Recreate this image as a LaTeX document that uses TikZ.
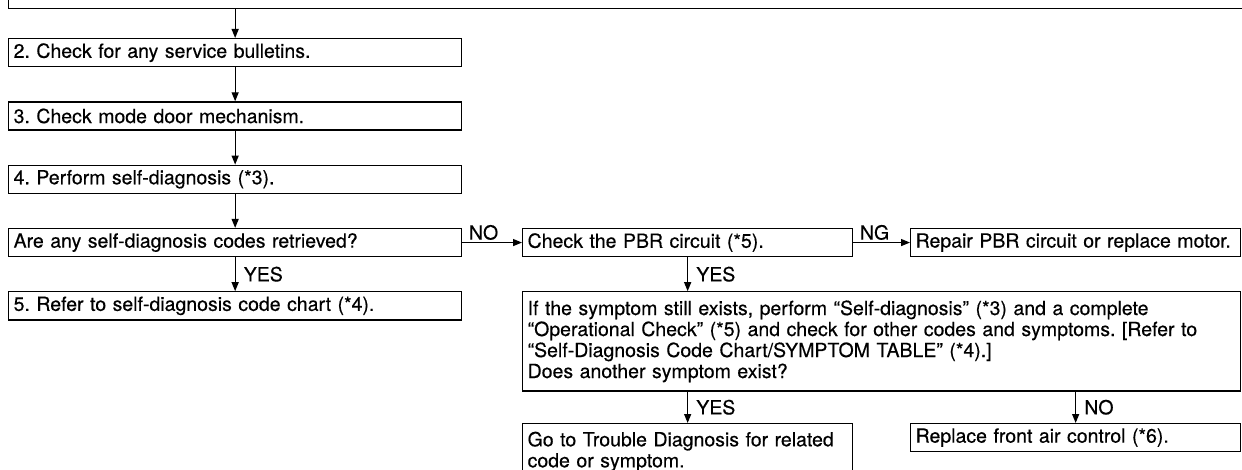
\documentclass[tikz,border=0pt]{standalone}
\usepackage{fontspec}
\setmainfont{TeX Gyre Heros}
\newfontfamily\chartfont{TeX Gyre Heros}[FakeBold=0.4]
\usetikzlibrary{positioning}
\usetikzlibrary{arrows.meta}

\begin{document}
\frenchspacing
\begin{tikzpicture}[
            x=1pt, y=-1pt,
            node distance=34pt,
            box/.style={draw, line width=1.3pt, rectangle, align=left, inner xsep=5pt,
                        minimum height=28pt, font=\chartfont\fontsize{19.5}{21}\selectfont},
            tag/.style={font=\chartfont\fontsize{19.5}{21}\selectfont, inner sep=2pt},
            arrow style/.style={-{Triangle[length=9pt, width=7pt]}, line width=1.3pt}
        ]

        \useasboundingbox (0,0) rectangle (1242,470);
        \clip (0,0) rectangle (1242,470);

        \node[box, minimum width=1260pt, minimum height=60pt, anchor=south west] (confirm) at (8,9) {};

        \node[box, text width=443pt, anchor=north west] (b2) at (8,38) {2. Check for any service bulletins.};
        \node[box, text width=443pt] (b3) [below=of b2] {3. Check mode door mechanism.};
        \node[box, text width=443pt] (b4) [below=of b3] {4. Perform self-diagnosis (*3).};
        \node[box, text width=443pt] (q1) [below=of b4] {Are any self-diagnosis codes retrieved?};
        \node[box, text width=443pt] (b5) [below=of q1] {5. Refer to self-diagnosis code chart (*4).};

        \node[box, text width=320pt, anchor=north west] (pbr) at (522,0 |- q1.north) {Check the PBR circuit (*5).};
        \node[box, text width=320pt, anchor=north west] (repair) at (910,0 |- q1.north) {Repair PBR circuit or replace motor.};

        \node[box, text width=708pt, minimum height=99pt, anchor=north west] (big) at (522,0 |- b5.north)
            {If the symptom still exists, perform “Self-diagnosis” (*3) and a complete\\
             “Operational Check” (*5) and check for other codes and symptoms. [Refer to\\
             “Self-Diagnosis Code Chart/SYMPTOM TABLE” (*4).]\\
             Does another symptom exist?};

        \node[box, text width=320pt, minimum height=56pt, anchor=north west] (goto) at (522,423)
            {Go to Trouble Diagnosis for related\\ code or symptom.};
        \node[box, text width=320pt, anchor=north west] (replace) at (910,423) {Replace front air control (*6).};

        % main column
        \draw[arrow style] (confirm.south -| b2.north) -- (b2.north);
        \draw[arrow style] (b2) -- (b3);
        \draw[arrow style] (b3) -- (b4);
        \draw[arrow style] (b4) -- (q1);
        \draw[arrow style] (q1) -- node[tag, right=6pt] {YES} (b5);

        % branches
        \draw[arrow style] (q1.east) -- node[tag, pos=0, anchor=south west, xshift=4pt] {NO} (pbr.west);
        \draw[arrow style] (pbr.east) -- node[tag, pos=0, anchor=south west, xshift=4pt] {NG} (repair.west);
        \draw[arrow style] (pbr.south) -- node[tag, right=6pt] {YES} (big.north -| pbr.south);
        \draw[arrow style] (big.south -| goto.north) -- node[tag, right=6pt] {YES} (goto.north);
        \draw[arrow style] (big.south -| replace.north) -- node[tag, right=6pt] {NO} (replace.north);
        \end{tikzpicture}
\end{document}
